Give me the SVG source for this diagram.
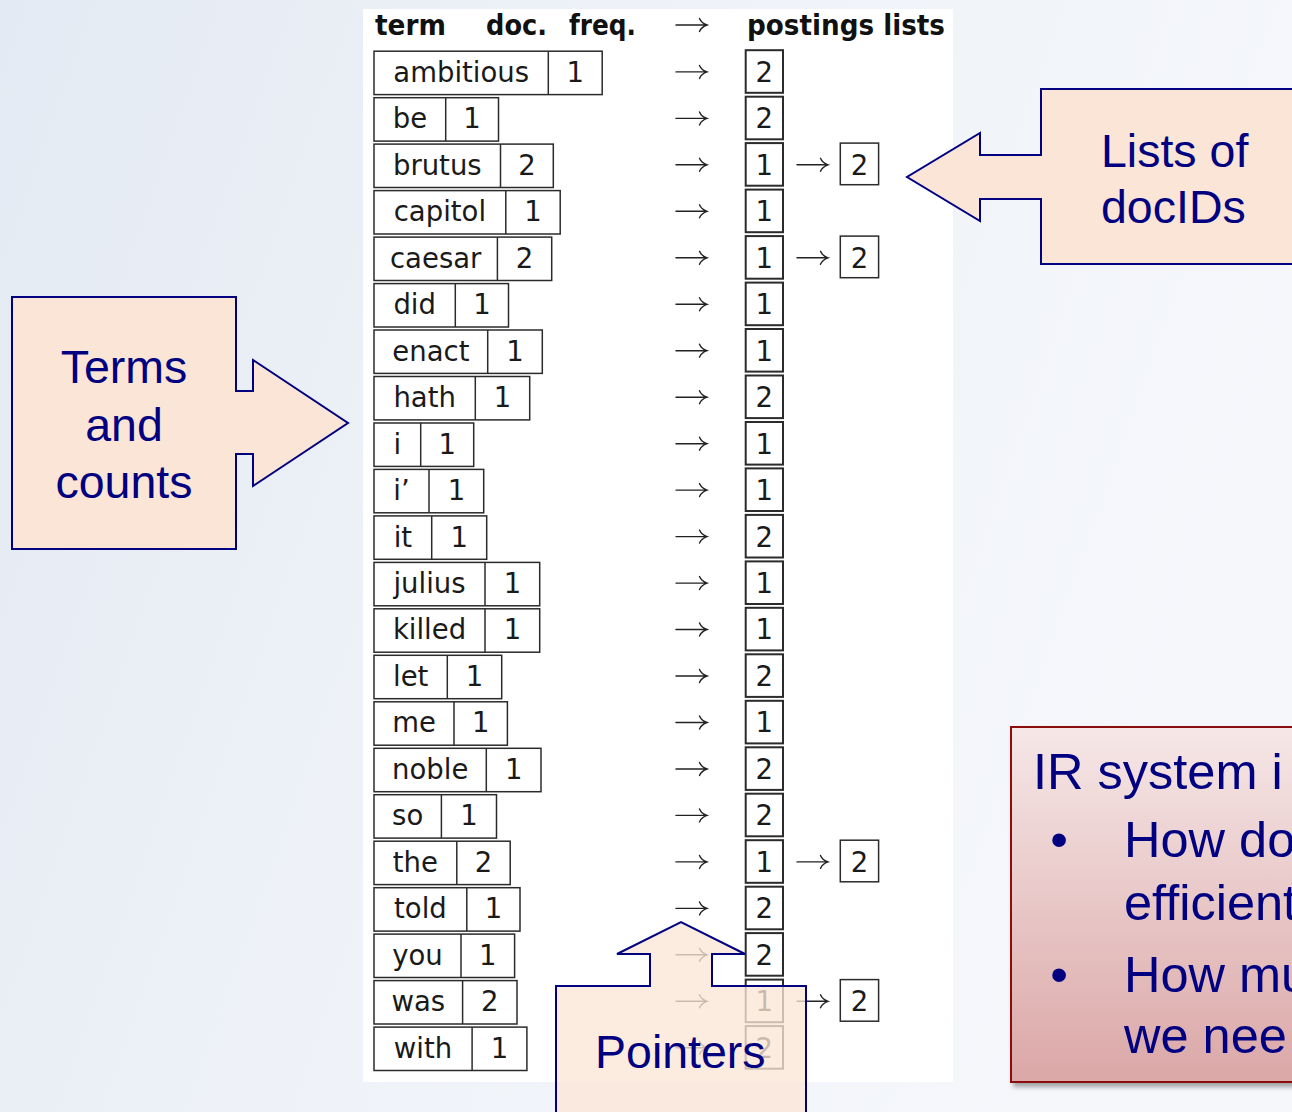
<svg xmlns="http://www.w3.org/2000/svg" xmlns:xlink="http://www.w3.org/1999/xlink" width="1292" height="1112" viewBox="0 0 1292 1112">
<defs>
<style>
.cell{fill:#fff;stroke:#2b2b2b;stroke-width:1.5}
.pcell{fill:#fff;stroke:#2b2b2b;stroke-width:2}
.pcell2{fill:#fff;stroke:#2b2b2b;stroke-width:1.5}
.div{stroke:#2b2b2b;stroke-width:1.5}
.t{font-family:"DejaVu Sans","Liberation Sans",sans-serif;font-size:27.5px;fill:#1a1a1a;text-anchor:middle}
.h{font-family:"DejaVu Sans","Liberation Sans",sans-serif;font-size:27.5px;font-weight:bold;fill:#111}
.arr{fill:none;stroke:#222;stroke-width:1.4;stroke-linecap:round}
.call{fill:#fbe5d6;stroke:#000080;stroke-width:2;stroke-linejoin:miter}
.ct{font-family:"Liberation Sans",Arial,sans-serif;font-size:46.5px;fill:#000080}
.ir{font-family:"Liberation Sans",Arial,sans-serif;font-size:50.5px;fill:#000080}
</style>
<linearGradient id="bg" x1="0" y1="0" x2="1" y2="0.3">
<stop offset="0" stop-color="#e3eaf3"/>
<stop offset="0.5" stop-color="#eff2f8"/>
<stop offset="1" stop-color="#f5f7fb"/>
</linearGradient>
<linearGradient id="irg" x1="0" y1="0" x2="0" y2="1">
<stop offset="0" stop-color="#f6e7e7"/>
<stop offset="1" stop-color="#dba7a7"/>
</linearGradient>
<filter id="sh" x="-10%" y="-10%" width="130%" height="130%">
<feDropShadow dx="3" dy="4" stdDeviation="2.5" flood-color="#000" flood-opacity="0.35"/>
</filter>
<path id="a" d="M0,0 H31 M23.5,-6.5 Q25.5,-1.8 31,0 Q25.5,1.8 23.5,6.5"/>
</defs>

<rect x="0" y="0" width="1292" height="1112" fill="url(#bg)"/>
<rect x="363" y="9" width="590" height="1073" fill="#fff"/>

<g id="header">
<text class="h" x="375" y="35" textLength="71" lengthAdjust="spacingAndGlyphs">term</text>
<text class="h" x="486" y="35" textLength="61" lengthAdjust="spacingAndGlyphs">doc.</text>
<text class="h" x="569" y="35" textLength="67" lengthAdjust="spacingAndGlyphs">freq.</text>
<text class="h" x="747" y="35" textLength="198" lengthAdjust="spacingAndGlyphs">postings lists</text>
</g>

<g id="r-ambitious" transform="translate(0,51.2)"><rect class="cell" x="374" y="0" width="228.2" height="43.4"/><line class="div" x1="548.3" y1="0" x2="548.3" y2="43.4"/><text class="t" x="461.2" y="30.7">ambitious</text><text class="t" x="575.3" y="30.7">1</text></g>
<g id="r-be" transform="translate(0,97.7)"><rect class="cell" x="374" y="0" width="124.5" height="43.4"/><line class="div" x1="445.7" y1="0" x2="445.7" y2="43.4"/><text class="t" x="409.9" y="30.7">be</text><text class="t" x="472.1" y="30.7">1</text></g>
<g id="r-brutus" transform="translate(0,144.1)"><rect class="cell" x="374" y="0" width="179.3" height="43.4"/><line class="div" x1="500.5" y1="0" x2="500.5" y2="43.4"/><text class="t" x="437.3" y="30.7">brutus</text><text class="t" x="526.9" y="30.7">2</text></g>
<g id="r-capitol" transform="translate(0,190.6)"><rect class="cell" x="374" y="0" width="186.2" height="43.4"/><line class="div" x1="505.8" y1="0" x2="505.8" y2="43.4"/><text class="t" x="439.9" y="30.7">capitol</text><text class="t" x="533" y="30.7">1</text></g>
<g id="r-caesar" transform="translate(0,237.1)"><rect class="cell" x="374" y="0" width="177.7" height="43.4"/><line class="div" x1="497.4" y1="0" x2="497.4" y2="43.4"/><text class="t" x="435.7" y="30.7">caesar</text><text class="t" x="524.6" y="30.7">2</text></g>
<g id="r-did" transform="translate(0,283.6)"><rect class="cell" x="374" y="0" width="134.5" height="43.4"/><line class="div" x1="455.3" y1="0" x2="455.3" y2="43.4"/><text class="t" x="414.7" y="30.7">did</text><text class="t" x="481.9" y="30.7">1</text></g>
<g id="r-enact" transform="translate(0,330)"><rect class="cell" x="374" y="0" width="168.3" height="43.4"/><line class="div" x1="487.7" y1="0" x2="487.7" y2="43.4"/><text class="t" x="430.9" y="30.7">enact</text><text class="t" x="515" y="30.7">1</text></g>
<g id="r-hath" transform="translate(0,376.5)"><rect class="cell" x="374" y="0" width="155.7" height="43.4"/><line class="div" x1="475.3" y1="0" x2="475.3" y2="43.4"/><text class="t" x="424.7" y="30.7">hath</text><text class="t" x="502.5" y="30.7">1</text></g>
<g id="r-i" transform="translate(0,423)"><rect class="cell" x="374" y="0" width="99.7" height="43.4"/><line class="div" x1="420.7" y1="0" x2="420.7" y2="43.4"/><text class="t" x="397.4" y="30.7">i</text><text class="t" x="447.2" y="30.7">1</text></g>
<g id="r-iq" transform="translate(0,469.4)"><rect class="cell" x="374" y="0" width="109.7" height="43.4"/><line class="div" x1="429" y1="0" x2="429" y2="43.4"/><text class="t" x="401.5" y="30.7">i’</text><text class="t" x="456.4" y="30.7">1</text></g>
<g id="r-it" transform="translate(0,515.9)"><rect class="cell" x="374" y="0" width="112.7" height="43.4"/><line class="div" x1="431.7" y1="0" x2="431.7" y2="43.4"/><text class="t" x="402.9" y="30.7">it</text><text class="t" x="459.2" y="30.7">1</text></g>
<g id="r-julius" transform="translate(0,562.4)"><rect class="cell" x="374" y="0" width="165.7" height="43.4"/><line class="div" x1="485" y1="0" x2="485" y2="43.4"/><text class="t" x="429.5" y="30.7">julius</text><text class="t" x="512.4" y="30.7">1</text></g>
<g id="r-killed" transform="translate(0,608.8)"><rect class="cell" x="374" y="0" width="165.7" height="43.4"/><line class="div" x1="485" y1="0" x2="485" y2="43.4"/><text class="t" x="429.5" y="30.7">killed</text><text class="t" x="512.4" y="30.7">1</text></g>
<g id="r-let" transform="translate(0,655.3)"><rect class="cell" x="374" y="0" width="127.7" height="43.4"/><line class="div" x1="447.3" y1="0" x2="447.3" y2="43.4"/><text class="t" x="410.7" y="30.7">let</text><text class="t" x="474.5" y="30.7">1</text></g>
<g id="r-me" transform="translate(0,701.8)"><rect class="cell" x="374" y="0" width="133.4" height="43.4"/><line class="div" x1="454" y1="0" x2="454" y2="43.4"/><text class="t" x="414" y="30.7">me</text><text class="t" x="480.7" y="30.7">1</text></g>
<g id="r-noble" transform="translate(0,748.3)"><rect class="cell" x="374" y="0" width="167" height="43.4"/><line class="div" x1="486.3" y1="0" x2="486.3" y2="43.4"/><text class="t" x="430.2" y="30.7">noble</text><text class="t" x="513.7" y="30.7">1</text></g>
<g id="r-so" transform="translate(0,794.7)"><rect class="cell" x="374" y="0" width="122.5" height="43.4"/><line class="div" x1="441.4" y1="0" x2="441.4" y2="43.4"/><text class="t" x="407.7" y="30.7">so</text><text class="t" x="469" y="30.7">1</text></g>
<g id="r-the" transform="translate(0,841.2)"><rect class="cell" x="374" y="0" width="136.2" height="43.4"/><line class="div" x1="456.8" y1="0" x2="456.8" y2="43.4"/><text class="t" x="415.4" y="30.7">the</text><text class="t" x="483.5" y="30.7">2</text></g>
<g id="r-told" transform="translate(0,887.7)"><rect class="cell" x="374" y="0" width="146" height="43.4"/><line class="div" x1="466.8" y1="0" x2="466.8" y2="43.4"/><text class="t" x="420.4" y="30.7">told</text><text class="t" x="493.4" y="30.7">1</text></g>
<g id="r-you" transform="translate(0,934.1)"><rect class="cell" x="374" y="0" width="140.6" height="43.4"/><line class="div" x1="461" y1="0" x2="461" y2="43.4"/><text class="t" x="417.5" y="30.7">you</text><text class="t" x="487.8" y="30.7">1</text></g>
<g id="r-was" transform="translate(0,980.6)"><rect class="cell" x="374" y="0" width="143" height="43.4"/><line class="div" x1="462.6" y1="0" x2="462.6" y2="43.4"/><text class="t" x="418.3" y="30.7">was</text><text class="t" x="489.8" y="30.7">2</text></g>
<g id="r-with" transform="translate(0,1027.1)"><rect class="cell" x="374" y="0" width="152.9" height="43.4"/><line class="div" x1="472.1" y1="0" x2="472.1" y2="43.4"/><text class="t" x="423" y="30.7">with</text><text class="t" x="499.5" y="30.7">1</text></g>

<g id="postings">
<g id="p-ambitious" transform="translate(0,51.2)"><rect class="pcell" x="745.7" y="-1" width="37.3" height="42.6"/><text class="t" x="764.3" y="30.7">2</text></g>
<g id="p-be" transform="translate(0,97.7)"><rect class="pcell" x="745.7" y="-1" width="37.3" height="42.6"/><text class="t" x="764.3" y="30.7">2</text></g>
<g id="p-brutus" transform="translate(0,144.1)"><rect class="pcell" x="745.7" y="-1" width="37.3" height="42.6"/><text class="t" x="764.3" y="30.7">1</text><rect class="pcell2" x="840.3" y="-1" width="38.3" height="41.6"/><text class="t" x="859.5" y="30.7">2</text></g>
<g id="p-capitol" transform="translate(0,190.6)"><rect class="pcell" x="745.7" y="-1" width="37.3" height="42.6"/><text class="t" x="764.3" y="30.7">1</text></g>
<g id="p-caesar" transform="translate(0,237.1)"><rect class="pcell" x="745.7" y="-1" width="37.3" height="42.6"/><text class="t" x="764.3" y="30.7">1</text><rect class="pcell2" x="840.3" y="-1" width="38.3" height="41.6"/><text class="t" x="859.5" y="30.7">2</text></g>
<g id="p-did" transform="translate(0,283.6)"><rect class="pcell" x="745.7" y="-1" width="37.3" height="42.6"/><text class="t" x="764.3" y="30.7">1</text></g>
<g id="p-enact" transform="translate(0,330)"><rect class="pcell" x="745.7" y="-1" width="37.3" height="42.6"/><text class="t" x="764.3" y="30.7">1</text></g>
<g id="p-hath" transform="translate(0,376.5)"><rect class="pcell" x="745.7" y="-1" width="37.3" height="42.6"/><text class="t" x="764.3" y="30.7">2</text></g>
<g id="p-i" transform="translate(0,423)"><rect class="pcell" x="745.7" y="-1" width="37.3" height="42.6"/><text class="t" x="764.3" y="30.7">1</text></g>
<g id="p-iq" transform="translate(0,469.4)"><rect class="pcell" x="745.7" y="-1" width="37.3" height="42.6"/><text class="t" x="764.3" y="30.7">1</text></g>
<g id="p-it" transform="translate(0,515.9)"><rect class="pcell" x="745.7" y="-1" width="37.3" height="42.6"/><text class="t" x="764.3" y="30.7">2</text></g>
<g id="p-julius" transform="translate(0,562.4)"><rect class="pcell" x="745.7" y="-1" width="37.3" height="42.6"/><text class="t" x="764.3" y="30.7">1</text></g>
<g id="p-killed" transform="translate(0,608.8)"><rect class="pcell" x="745.7" y="-1" width="37.3" height="42.6"/><text class="t" x="764.3" y="30.7">1</text></g>
<g id="p-let" transform="translate(0,655.3)"><rect class="pcell" x="745.7" y="-1" width="37.3" height="42.6"/><text class="t" x="764.3" y="30.7">2</text></g>
<g id="p-me" transform="translate(0,701.8)"><rect class="pcell" x="745.7" y="-1" width="37.3" height="42.6"/><text class="t" x="764.3" y="30.7">1</text></g>
<g id="p-noble" transform="translate(0,748.3)"><rect class="pcell" x="745.7" y="-1" width="37.3" height="42.6"/><text class="t" x="764.3" y="30.7">2</text></g>
<g id="p-so" transform="translate(0,794.7)"><rect class="pcell" x="745.7" y="-1" width="37.3" height="42.6"/><text class="t" x="764.3" y="30.7">2</text></g>
<g id="p-the" transform="translate(0,841.2)"><rect class="pcell" x="745.7" y="-1" width="37.3" height="42.6"/><text class="t" x="764.3" y="30.7">1</text><rect class="pcell2" x="840.3" y="-1" width="38.3" height="41.6"/><text class="t" x="859.5" y="30.7">2</text></g>
<g id="p-told" transform="translate(0,887.7)"><rect class="pcell" x="745.7" y="-1" width="37.3" height="42.6"/><text class="t" x="764.3" y="30.7">2</text></g>
<g id="p-you" transform="translate(0,934.1)"><rect class="pcell" x="745.7" y="-1" width="37.3" height="42.6"/><text class="t" x="764.3" y="30.7">2</text></g>
<g id="p-was" transform="translate(0,980.6)"><rect class="pcell" x="745.7" y="-1" width="37.3" height="42.6"/><text class="t" x="764.3" y="30.7">1</text><rect class="pcell2" x="840.3" y="-1" width="38.3" height="41.6"/><text class="t" x="859.5" y="30.7">2</text></g>
<g id="p-with" transform="translate(0,1027.1)"><rect class="pcell" x="745.7" y="-1" width="37.3" height="42.6"/><text class="t" x="764.3" y="30.7">2</text></g>
</g>

<g id="connectors" class="arr">
<use href="#a" x="676" y="25"/>
<use href="#a" x="676" y="71.9"/>
<use href="#a" x="676" y="118.4"/>
<use href="#a" x="676" y="164.8"/>
<use href="#a" x="797" y="164.8"/>
<use href="#a" x="676" y="211.3"/>
<use href="#a" x="676" y="257.8"/>
<use href="#a" x="797" y="257.8"/>
<use href="#a" x="676" y="304.3"/>
<use href="#a" x="676" y="350.7"/>
<use href="#a" x="676" y="397.2"/>
<use href="#a" x="676" y="443.7"/>
<use href="#a" x="676" y="490.1"/>
<use href="#a" x="676" y="536.6"/>
<use href="#a" x="676" y="583.1"/>
<use href="#a" x="676" y="629.5"/>
<use href="#a" x="676" y="676"/>
<use href="#a" x="676" y="722.5"/>
<use href="#a" x="676" y="769"/>
<use href="#a" x="676" y="815.4"/>
<use href="#a" x="676" y="861.9"/>
<use href="#a" x="797" y="861.9"/>
<use href="#a" x="676" y="908.4"/>
<use href="#a" x="676" y="954.8"/>
<use href="#a" x="676" y="1001.3"/>
<use href="#a" x="797" y="1001.3"/>
<use href="#a" x="676" y="1047.8"/>
</g>

<g id="callout-terms">
<path class="call" d="M12,297 H236 V391 H253 V360 L348,423 L253,486 V454 H236 V549 H12 Z"/>
<text class="ct" x="124" y="383" text-anchor="middle">Terms</text>
<text class="ct" x="124" y="440.5" text-anchor="middle">and</text>
<text class="ct" x="124" y="498" text-anchor="middle">counts</text>
</g>

<g id="callout-lists">
<path class="call" d="M1300,89 H1041 V155 H980 V133 L907,177 L980,221 V199 H1041 V264 H1300 Z"/>
<text class="ct" x="1101" y="167">Lists of</text>
<text class="ct" x="1101" y="223">docIDs</text>
</g>

<g id="callout-pointers">
<path class="call" fill-opacity="0.78" d="M556,986 H650 V954 H617 L681,922 L745,954 H712 V986 H806 V1125 H556 Z"/>
<text class="ct" x="595" y="1068">Pointers</text>
</g>

<g id="ir-box">
<rect x="1011" y="727" width="300" height="355" fill="url(#irg)" stroke="#8b0a0a" stroke-width="2" filter="url(#sh)"/>
<text class="ir" x="1033" y="789" font-size="54">IR system i</text>
<text class="ir" x="1059" y="857" text-anchor="middle">•</text>
<text class="ir" x="1124" y="857">How do</text>
<text class="ir" x="1124" y="920">efficient</text>
<text class="ir" x="1059" y="992" text-anchor="middle">•</text>
<text class="ir" x="1124" y="992">How mu</text>
<text class="ir" x="1124" y="1053">we nee</text>
</g>
</svg>
